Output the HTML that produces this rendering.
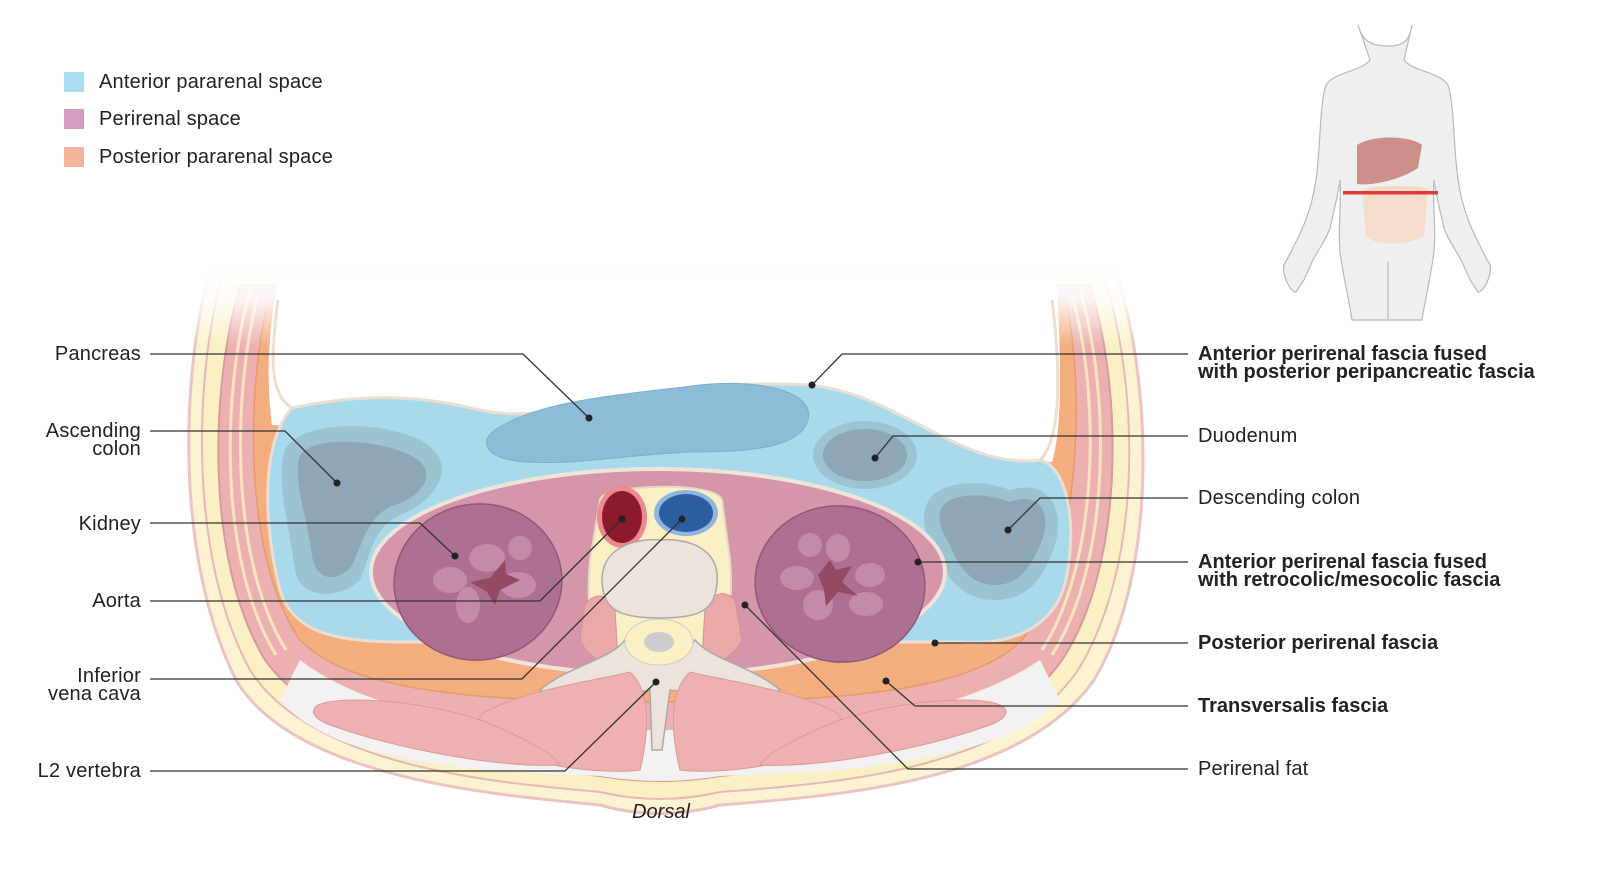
<!DOCTYPE html>
<html><head><meta charset="utf-8"><style>
html,body{margin:0;padding:0;background:#fff;}
svg{display:block;font-family:"Liberation Sans",Arial,sans-serif;}
</style></head><body>
<svg width="1599" height="889" viewBox="0 0 1599 889" xmlns="http://www.w3.org/2000/svg">
<defs>
<linearGradient id="fade" x1="0" y1="0" x2="0" y2="1">
<stop offset="0" stop-color="#fff" stop-opacity="1"/>
<stop offset="0.45" stop-color="#fff" stop-opacity="0.85"/>
<stop offset="1" stop-color="#fff" stop-opacity="0"/>
</linearGradient>
</defs>
<rect width="1599" height="889" fill="#fff"/>

<g font-size="20" fill="#222" letter-spacing="0.2">
<rect x="64" y="72" width="20" height="20" fill="#a9def0"/>
<text x="99" y="88">Anterior pararenal space</text>
<rect x="64" y="109" width="20" height="20" fill="#d59cc2"/>
<text x="99" y="125">Perirenal space</text>
<rect x="64" y="147" width="20" height="20" fill="#f5b49a"/>
<text x="99" y="163">Posterior pararenal space</text>
</g>

<path d="M210 270 C180 380,176 560,236 680 C296 780,500 795,600 805 Q660 822 720 805 C850 795,1024 780,1094 680 C1154 580,1156 400,1116 270 Z" fill="#fdf3d2" stroke="#edc3c3" stroke-width="3"/>
<path d="M222 275 C193 385,190 560,250 670 C312 768,500 783,600 792 Q660 806 720 792 C845 783,1012 768,1078 670 C1140 570,1142 400,1104 275 Z" fill="#fbefc4" stroke="#e8b8b8" stroke-width="2"/>
<path d="M240 285 C210 390,205 560,265 660 C330 750,500 766,600 776 Q660 786 720 776 C840 766,1000 750,1062 660 C1122 570,1125 400,1090 285 Z" fill="#edb0b0" stroke="#d99a9a" stroke-width="2"/>
<path d="M250 290 C222 392,218 560,276 655" fill="none" stroke="#f8e3c0" stroke-width="3"/>
<path d="M258 295 C232 395,230 560,286 650" fill="none" stroke="#f8e3c0" stroke-width="3"/>
<path d="M1080 290 C1110 392,1112 560,1052 655" fill="none" stroke="#f8e3c0" stroke-width="3"/>
<path d="M1072 295 C1100 395,1100 560,1042 650" fill="none" stroke="#f8e3c0" stroke-width="3"/>
<path d="M300 660 C380 720,500 730,660 730 C820 730,950 720,1040 660 L1060 700 C1000 760,860 772,720 776 Q660 786 600 776 C460 772,330 760,280 700 Z" fill="#f3f1f2"/>
<path d="M268 300 C245 400,245 560,300 640 C350 692,480 702,660 702 C840 702,970 692,1022 640 C1077 570,1087 400,1066 300 Z" fill="#f3ad7f" stroke="#e49a6c" stroke-width="1.5"/>
<path d="M278 280 L1056 280 C1062 360,1062 430,1052 462 L272 425 C266 380,268 330,278 280 Z" fill="#fff"/>

<path d="M292 408 C340 398,400 390,480 410 C560 428,650 376,810 385 C900 394,960 470,1040 460 C1066 466,1078 520,1066 580 C1056 622,1020 646,960 642 L400 642 C330 642,292 630,280 590 C262 520,262 440,292 408 Z" fill="#a9daeb" stroke="#ebdfd3" stroke-width="3"/>
<path d="M495 430 C540 400,620 395,700 385 C770 378,815 395,808 420 C800 450,740 452,690 452 C620 455,560 468,510 460 C485 455,480 440,495 430 Z" fill="#8dbbd8" stroke="#7eaecb" stroke-width="1"/>
<path d="M285 450 C300 420,380 420,420 440 C460 460,440 500,400 515 C370 530,370 560,360 580 C340 600,300 600,295 570 C290 530,275 480,285 450 Z" fill="#9cc3d2"/>
<path d="M300 455 C315 435,380 440,410 455 C440 470,425 495,395 505 C365 515,362 550,350 568 C335 583,315 580,312 555 C308 520,292 480,300 455 Z" fill="#8ea6b6"/>
<ellipse cx="865" cy="455" rx="52" ry="34" fill="#9cc3d2"/>
<ellipse cx="865" cy="455" rx="42" ry="26" fill="#8ea6b6"/>
<path d="M925 510 C930 480,980 478,1010 490 C1050 478,1065 510,1055 545 C1045 575,1030 600,995 600 C960 600,945 575,935 550 C925 535,922 520,925 510 Z" fill="#9cc3d2"/>
<path d="M940 512 C945 492,985 492,1010 502 C1040 490,1052 515,1042 540 C1032 565,1020 585,995 585 C970 585,958 565,950 545 C942 532,938 522,940 512 Z" fill="#8ea6b6"/>

<ellipse cx="658" cy="572" rx="287" ry="103" fill="#d596a9" stroke="#efe4da" stroke-width="4"/>
<ellipse cx="478" cy="582" rx="84" ry="78" transform="rotate(-8 478 582)" fill="#ad7093" stroke="#8f5878" stroke-width="1.5"/>
<ellipse cx="840" cy="584" rx="85" ry="78" transform="rotate(8 840 584)" fill="#ad7093" stroke="#8f5878" stroke-width="1.5"/>
<g fill="#c48aa8">
<ellipse cx="487" cy="558" rx="18" ry="14"/><ellipse cx="520" cy="548" rx="12" ry="12"/><ellipse cx="450" cy="580" rx="17" ry="13"/><ellipse cx="468" cy="605" rx="12" ry="18"/><ellipse cx="518" cy="585" rx="18" ry="13"/>
<ellipse cx="810" cy="545" rx="12" ry="12"/><ellipse cx="838" cy="548" rx="12" ry="14"/><ellipse cx="797" cy="578" rx="17" ry="12"/><ellipse cx="870" cy="575" rx="15" ry="12"/><ellipse cx="818" cy="605" rx="15" ry="15"/><ellipse cx="866" cy="604" rx="17" ry="12"/>
</g>
<path d="M470 582 L490 578 L505 560 L506 574 L520 580 L500 590 L495 605 L487 592 Z" fill="#954a62"/>
<path d="M818 575 L830 560 L836 570 L852 566 L842 582 L858 596 L838 592 L826 606 L824 590 Z" fill="#954a62"/>

<path d="M600 500 C600 485,715 480,722 500 L730 560 C735 620,720 670,700 690 L620 690 C595 670,585 620,590 560 Z" fill="#fbefc4" stroke="#e8d8c8" stroke-width="2"/>
<ellipse cx="622" cy="517" rx="25" ry="31" fill="#f08890"/>
<ellipse cx="622" cy="517" rx="20" ry="26" fill="#8b1a2c"/>
<ellipse cx="686" cy="513" rx="32" ry="23" fill="#8fb5e0"/>
<ellipse cx="686" cy="513" rx="27" ry="19" fill="#2c5d9f"/>
<path d="M585 605 C595 590,612 595,615 610 L618 660 C605 665,590 660,580 640 Z" fill="#eaa9a9" stroke="#d39393"/>
<path d="M735 600 C725 588,708 595,705 608 L702 660 C715 665,732 660,742 640 Z" fill="#eaa9a9" stroke="#d39393"/>
<path d="M603 590 C595 545,640 538,660 540 C682 538,725 545,716 590 C712 610,700 618,660 618 C620 618,607 610,603 590 Z" fill="#ece3dc" stroke="#aaa" stroke-width="1.5"/>
<path d="M540 690 C570 665,610 660,625 640 C640 665,680 665,695 640 C712 660,750 665,780 690 C760 700,700 695,670 690 L662 750 L652 750 L650 690 C620 695,560 700,540 690 Z" fill="#ece3dc" stroke="#aaa" stroke-width="1.5"/>
<ellipse cx="659" cy="642" rx="34" ry="23" fill="#fbefc4" stroke="#ccc"/>
<ellipse cx="659" cy="642" rx="15" ry="10" fill="#ccc"/>
<path d="M480 715 C520 690,600 680,630 672 C650 690,650 730,640 770 C600 775,520 765,480 740 Z" fill="#eeb0b0" stroke="#d99a9a"/>
<path d="M840 715 C800 690,720 680,690 672 C670 690,670 730,680 770 C720 775,800 765,840 740 Z" fill="#eeb0b0" stroke="#d99a9a"/>
<path d="M318 705 C340 695,420 700,480 720 C520 735,555 755,560 765 C500 768,400 750,330 725 C312 718,310 710,318 705 Z" fill="#eeb0b0" stroke="#d99a9a"/>
<path d="M1000 705 C980 695,900 700,840 720 C800 735,765 755,760 765 C820 768,920 750,990 725 C1008 718,1010 710,1000 705 Z" fill="#eeb0b0" stroke="#d99a9a"/>

<rect x="170" y="262" width="1000" height="85" fill="url(#fade)"/>
<path d="M278 300 C270 360,270 395,292 408" fill="none" stroke="#ebdfd3" stroke-width="3"/>
<path d="M1052 300 C1062 380,1060 440,1040 460" fill="none" stroke="#ebdfd3" stroke-width="3"/>

<g fill="none" stroke="#333" stroke-width="1.3">
<polyline points="150,354 523,354 589,418"/>
<polyline points="150,431 285,431 337,483"/>
<polyline points="150,523 420,523 455,556"/>
<polyline points="150,601 540,601 622,519"/>
<polyline points="150,679 522,679 682,519"/>
<polyline points="150,771 565,771 656,682"/>
<polyline points="1188,354 842,354 812,385"/>
<polyline points="1188,436 893,436 875,458"/>
<polyline points="1188,498 1040,498 1008,530"/>
<polyline points="1188,562 918,562"/>
<polyline points="1188,643 935,643"/>
<polyline points="1188,706 915,706 886,681"/>
<polyline points="1188,769 908,769 745,605"/>
</g>
<g fill="#222">
<circle cx="589" cy="418" r="3.5"/><circle cx="337" cy="483" r="3.5"/><circle cx="455" cy="556" r="3.5"/><circle cx="622" cy="519" r="3.5"/><circle cx="682" cy="519" r="3.5"/><circle cx="656" cy="682" r="3.5"/><circle cx="812" cy="385" r="3.5"/><circle cx="875" cy="458" r="3.5"/><circle cx="1008" cy="530" r="3.5"/><circle cx="918" cy="562" r="3.5"/><circle cx="935" cy="643" r="3.5"/><circle cx="886" cy="681" r="3.5"/><circle cx="745" cy="605" r="3.5"/>
</g>

<g font-size="20" fill="#222" text-anchor="end" letter-spacing="0.2">
<text x="141" y="360">Pancreas</text>
<text x="141" y="437">Ascending</text><text x="141" y="455">colon</text>
<text x="141" y="530">Kidney</text>
<text x="141" y="607">Aorta</text>
<text x="141" y="682">Inferior</text><text x="141" y="700">vena cava</text>
<text x="141" y="777">L2 vertebra</text>
</g>
<g font-size="20" fill="#222">
<text x="1198" y="360" font-weight="bold">Anterior perirenal fascia fused</text>
<text x="1198" y="378" font-weight="bold">with posterior peripancreatic fascia</text>
<text x="1198" y="442" letter-spacing="0.2">Duodenum</text>
<text x="1198" y="504" letter-spacing="0.2">Descending colon</text>
<text x="1198" y="568" font-weight="bold">Anterior perirenal fascia fused</text>
<text x="1198" y="586" font-weight="bold">with retrocolic/mesocolic fascia</text>
<text x="1198" y="649" font-weight="bold">Posterior perirenal fascia</text>
<text x="1198" y="712" font-weight="bold">Transversalis fascia</text>
<text x="1198" y="775" letter-spacing="0.2">Perirenal fat</text>
</g>
<text x="661" y="818" font-size="20" font-style="italic" fill="#222" text-anchor="middle">Dorsal</text>

<g fill="#efefef" stroke="#b9b9b9" stroke-width="1.2">
<path d="M1358 25 C1362 40,1370 46,1388 46 C1404 46,1410 40,1412 25 L1404 60 C1414 72,1440 72,1448 85 C1456 110,1452 160,1462 200 C1470 230,1478 240,1482 250 L1490 265 C1492 275,1484 292,1478 292 L1470 280 L1462 262 C1456 250,1448 240,1444 228 C1440 210,1436 195,1434 180 C1432 210,1438 235,1432 265 C1428 290,1424 305,1422 320 L1352 320 C1350 305,1346 290,1342 265 C1336 235,1342 210,1340 180 C1338 195,1334 210,1330 228 C1326 240,1318 250,1312 262 L1304 280 L1296 292 C1290 292,1282 275,1284 265 L1292 250 C1296 240,1304 230,1312 200 C1322 160,1318 110,1326 85 C1334 72,1360 72,1370 60 Z"/>
</g>
<path d="M1388 262 L1388 320" stroke="#b9b9b9" stroke-width="1.2"/>
<path d="M1362 190 C1380 184,1420 184,1428 190 L1424 236 C1410 246,1375 246,1366 236 Z" fill="#f6dccb"/>
<path d="M1357 145 C1372 135,1410 135,1422 145 L1418 168 C1400 180,1372 186,1357 184 Z" fill="#cd8f8a"/>
<rect x="1343" y="191" width="95" height="3.5" fill="#e03b3b"/>
</svg>
</body></html>
